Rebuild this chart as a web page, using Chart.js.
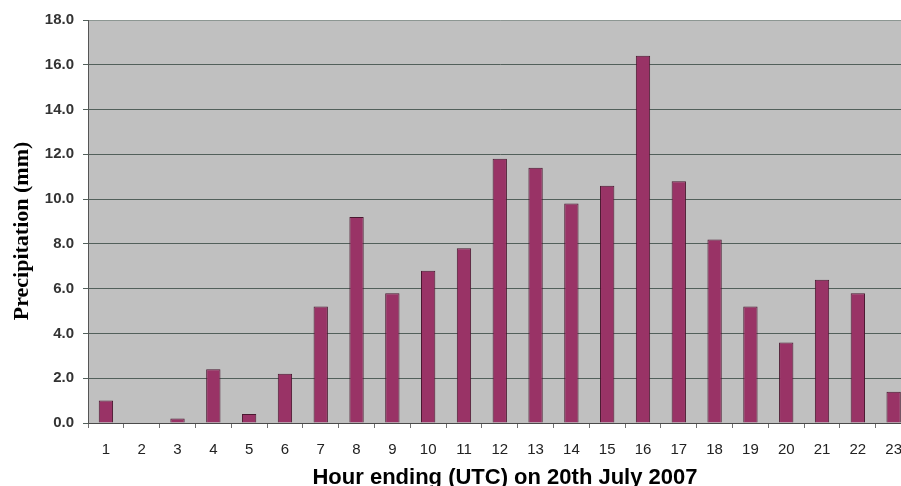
<!DOCTYPE html>
<html>
<head>
<meta charset="utf-8">
<script src="https://cdn.jsdelivr.net/npm/chart.js@4.4.1/dist/chart.umd.min.js"></script>
<style>
  html, body { margin: 0; padding: 0; background: #ffffff; overflow: hidden; }
  #wrap { width: 915px; height: 486px; }
</style>
</head>
<body>
<div id="wrap"><canvas id="c" width="915" height="486"></canvas></div>
<script>
// Hourly rainfall totals, 20 July 2007
const hours = ['1','2','3','4','5','6','7','8','9','10','11','12','13','14','15','16','17','18','19','20','21','22','23'];
const precipitationMm = [1.0, 0.0, 0.2, 2.4, 0.4, 2.2, 5.2, 9.2, 5.8, 6.8, 7.8, 11.8, 11.4, 9.8, 10.6, 16.4, 10.8, 8.2, 5.2, 3.6, 6.4, 5.8, 1.4];
const yMin = 0, yMax = 18, yStep = 2;
const xTitle = 'Hour ending (UTC) on 20th July 2007';
const yTitle = 'Precipitation (mm)';

// Grey plot background behind the bars
const plotBackground = {
  id: 'plotBackground',
  beforeDraw(chart) {
    const { ctx, chartArea: a } = chart;
    ctx.save();
    ctx.fillStyle = '#c0c0c0';
    ctx.fillRect(a.left, a.top, a.right - a.left, a.bottom - a.top);
    ctx.restore();
  }
};

// Axis titles
const axisTitles = {
  id: 'axisTitles',
  afterDraw(chart) {
    const { ctx } = chart;
    ctx.save();
    ctx.fillStyle = '#000000';
    ctx.textAlign = 'center';
    ctx.textBaseline = 'alphabetic';
    ctx.font = 'bold 22px "Liberation Sans", Arial, sans-serif';
    ctx.fillText(xTitle, 505, 484);
    ctx.translate(28, 231);
    ctx.rotate(-Math.PI / 2);
    ctx.font = 'bold 22px "Liberation Serif", "Times New Roman", serif';
    ctx.fillText(yTitle, 0, 0);
    ctx.restore();
  }
};

new Chart(document.getElementById('c'), {
  type: 'bar',
  data: {
    labels: hours,
    datasets: [{
      data: precipitationMm,
      backgroundColor: '#993366',
      borderColor: '#4a1830',
      borderWidth: 1,
      categoryPercentage: 1.0,
      barPercentage: 0.4
    }]
  },
  options: {
    responsive: false,
    animation: false,
    layout: { padding: { top: 20, right: 1, left: 0, bottom: 0 } },
    plugins: { legend: { display: false }, tooltip: { enabled: false } },
    scales: {
      x: {
        offset: true,
        grid: {
          offset: true,
          drawOnChartArea: false,
          drawTicks: true,
          tickLength: 5,
          tickColor: '#707070'
        },
        border: { color: '#4a4a4a', width: 1 },
        ticks: {
          color: '#222222',
          font: { family: '"Liberation Sans", Arial, sans-serif', size: 15 },
          padding: 13,
          maxRotation: 0,
          autoSkip: false
        },
        afterFit(scale) { scale.height = 63; }
      },
      y: {
        min: yMin,
        max: yMax,
        grid: {
          color: (c) => (c.tick && c.tick.value === yMax) ? '#8c9692' : '#52605b',
          lineWidth: 1,
          drawTicks: true,
          tickLength: 5,
          tickColor: '#52605b'
        },
        border: { color: '#555555', width: 1 },
        ticks: {
          stepSize: yStep,
          color: '#333333',
          font: { family: '"Liberation Sans", Arial, sans-serif', size: 15, weight: 'bold' },
          padding: 9,
          callback: (v) => Number(v).toFixed(1)
        },
        afterFit(scale) { scale.width = 88; }
      }
    }
  },
  plugins: [plotBackground, axisTitles]
});
</script>
</body>
</html>
